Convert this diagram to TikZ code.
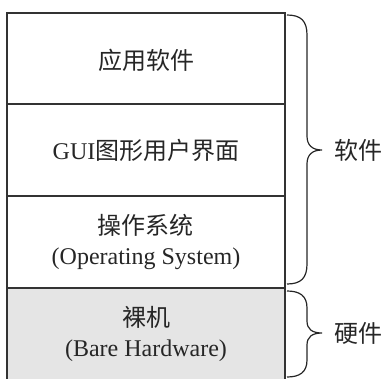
\documentclass[tikz,border=0pt]{standalone}
\usepackage{fontspec}
\setmainfont{Liberation Serif}
\newfontfamily\cjk{Noto Sans CJK SC}
\begin{document}
\begin{tikzpicture}[x=1pt,y=-1pt,
  layer/.style={draw=black!80,line width=1.1pt},
  lbl/.style={font=\fontsize{24}{30}\selectfont,align=center,text=black!85},
  brc/.style={draw=black!85,line width=1.2pt}]
\useasboundingbox (0,0) rectangle (383,378);
\clip (0,0) rectangle (383,378);
\fill[black!10] (7,288) rectangle (285,382);
\draw[layer] (7,13) rectangle (285,382);
\draw[layer] (7,104) -- (285,104);
\draw[layer] (7,196) -- (285,196);
\draw[layer] (7,288) -- (285,288);
\node[lbl] (app) at (146,60) {\cjk 应用软件};
\node[lbl] (gui) at (146,150) {GUI\cjk 图形用户界面};
\node[lbl] (os) at (146,242) {{\cjk 操作系统}\\(Operating System)};
\node[lbl] (hw) at (146,334) {{\cjk 裸机}\\(Bare Hardware)};
\coordinate (s1) at (322,150);
\coordinate (s2) at (322,333);
\draw[brc] (287,15) .. controls (301,15) and (307,21) .. (307,35) -- (307,136)
  .. controls (307,145) and (312,150) .. (s1)
  .. controls (312,150) and (307,155) .. (307,164) -- (307,264)
  .. controls (307,278) and (301,284) .. (287,284);
\draw[brc] (287,291) .. controls (300,291) and (307,296) .. (307,308) -- (307,321)
  .. controls (307,329) and (312,333) .. (s2)
  .. controls (312,333) and (307,337) .. (307,345) -- (307,360)
  .. controls (307,372) and (300,377) .. (287,377);
\node[lbl,anchor=west] (sw) at (331,150) {\cjk 软件};
\node[lbl,anchor=west] (hwl) at (331,333) {\cjk 硬件};
\end{tikzpicture}
\end{document}
